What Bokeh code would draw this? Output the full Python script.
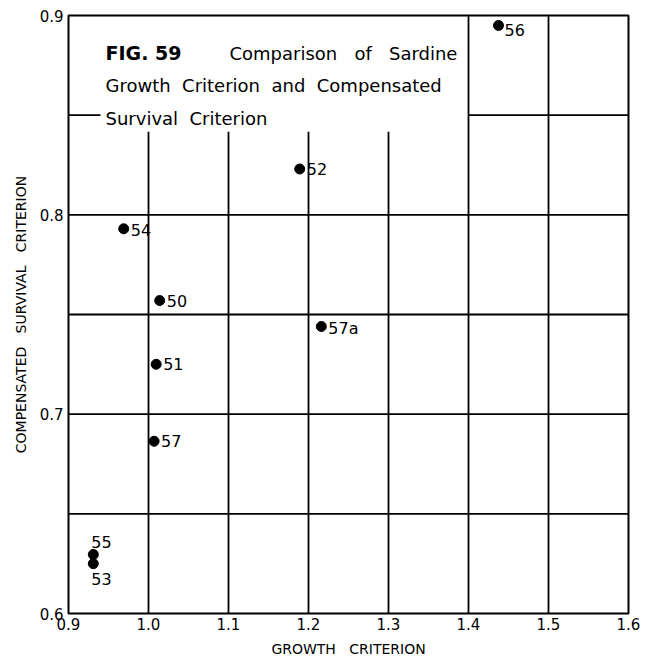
from bokeh.plotting import figure
from bokeh.models import FixedTicker, ColumnDataSource
from bokeh.core.properties import value
from bokeh.embed import file_html
from bokeh.resources import INLINE

# Sardine year classes: growth criterion vs compensated survival criterion
years = ["56", "52", "54", "50", "57a", "51", "57", "55", "53"]
growth = [1.4375, 1.189, 0.969, 1.014, 1.216, 1.0096, 1.007, 0.931, 0.931]
survival = [0.895, 0.823, 0.793, 0.757, 0.744, 0.725, 0.6864, 0.6296, 0.625]

x_ticks = [0.9, 1.0, 1.1, 1.2, 1.3, 1.4, 1.5, 1.6]
x_tick_labels = ["0.9", "1.0", "1.1", "1.2", "1.3", "1.4", "1.5", "1.6"]
y_ticks = [0.6, 0.7, 0.8, 0.9]
y_tick_labels = ["0.6", "0.7", "0.8", "0.9"]

x_grid = [1.0, 1.1, 1.2, 1.3, 1.4, 1.5]
y_grid = [0.65, 0.7, 0.75, 0.8, 0.85]

FONT = "DejaVu Sans"
SP = "\u00a0"  # non-breaking space keeps the wide lettering gaps

p = figure(width=657, height=662, x_range=(0.9, 1.6), y_range=(0.6, 0.9),
           output_backend="svg", toolbar_location=None,
           min_border_left=68, min_border_right=29,
           min_border_top=15, min_border_bottom=49)
p.xgrid.visible = False
p.ygrid.visible = False
p.background_fill_color = "white"
p.border_fill_color = "white"
p.outline_line_color = "black"
p.outline_line_width = 2
p.outline_line_alpha = 1

# title panel in the upper left keeps the grid out of it
box_left, box_right, box_bottom = 0.94, 1.4, 0.8417

xs0, ys0, xs1, ys1 = [], [], [], []
for gx in x_grid:
    xs0.append(gx); xs1.append(gx)
    ys0.append(0.6)
    ys1.append(box_bottom if gx < box_right else 0.9)
for gy in y_grid:
    if gy > box_bottom:
        xs0 += [0.9, box_right]; xs1 += [box_left, 1.6]
        ys0 += [gy, gy]; ys1 += [gy, gy]
    else:
        xs0.append(0.9); xs1.append(1.6)
        ys0.append(gy); ys1.append(gy)
p.segment(x0=xs0, y0=ys0, x1=xs1, y1=ys1, line_color="black", line_width=1.8)

# axes
for ax in (p.xaxis[0], p.yaxis[0]):
    ax.axis_line_color = None
    ax.major_tick_line_color = None
    ax.minor_tick_line_color = None
    ax.major_tick_out = 0
    ax.major_tick_in = 0
    ax.minor_tick_out = 0
    ax.minor_tick_in = 0
    ax.major_label_text_font = FONT
    ax.major_label_text_font_size = "15px"
    ax.major_label_text_color = "black"
    ax.axis_label_text_font = FONT
    ax.axis_label_text_font_size = "14px"
    ax.axis_label_text_font_style = "normal"
    ax.axis_label_text_color = "black"

p.xaxis.ticker = FixedTicker(ticks=x_ticks)
p.xaxis.major_label_overrides = dict(zip(x_ticks, x_tick_labels))
p.xaxis.major_label_standoff = 4
p.xaxis.axis_label = "GROWTH" + SP * 3 + "CRITERION"
p.xaxis.axis_label_standoff = 8

p.yaxis.ticker = FixedTicker(ticks=y_ticks)
p.yaxis.major_label_overrides = dict(zip(y_ticks, y_tick_labels))
p.yaxis.major_label_standoff = 5
p.yaxis.axis_label = "COMPENSATED" + SP * 3 + "SURVIVAL" + SP * 3 + "CRITERION"
p.yaxis.axis_label_standoff = 8

# points and their year labels
src = ColumnDataSource(dict(
    x=growth, y=survival, label=years,
    dx=[6, 7, 7, 7, 7, 7, 7, -2, -2],
    dy=[5, 0, 1, 0, 2, 0, 0, -6, 9],
    base=["middle", "middle", "middle", "middle", "middle", "middle",
          "middle", "bottom", "top"],
))
p.scatter("x", "y", source=src, size=10, color="black")
p.text("x", "y", text="label", source=src, x_offset="dx", y_offset="dy",
       text_baseline="base", text_align="left", text_font=value(FONT),
       text_font_size="16px", text_color="black")

# figure caption
def px_to_y(py):
    return 0.6 + (613 - py) / 1993.0

def px_to_x(px):
    return 0.9 + (px - 68) / 800.0

p.text(x=[px_to_x(105)], y=[px_to_y(53)], text=["FIG." + SP + "59"],
       text_font=value(FONT), text_font_style="bold", text_font_size="19px",
       text_baseline="alphabetic", text_color="black")
p.text(x=[px_to_x(229), px_to_x(105), px_to_x(105)],
       y=[px_to_y(53), px_to_y(85), px_to_y(118)],
       text=["Comparison" + SP * 3 + "of" + SP * 3 + "Sardine",
             "Growth" + SP * 2 + "Criterion" + SP * 2 + "and" + SP * 2 + "Compensated",
             "Survival" + SP * 2 + "Criterion"],
       text_font=value(FONT), text_font_size="18px",
       text_baseline="alphabetic", text_color="black")

open("out.html", "w").write(file_html(p, INLINE))
